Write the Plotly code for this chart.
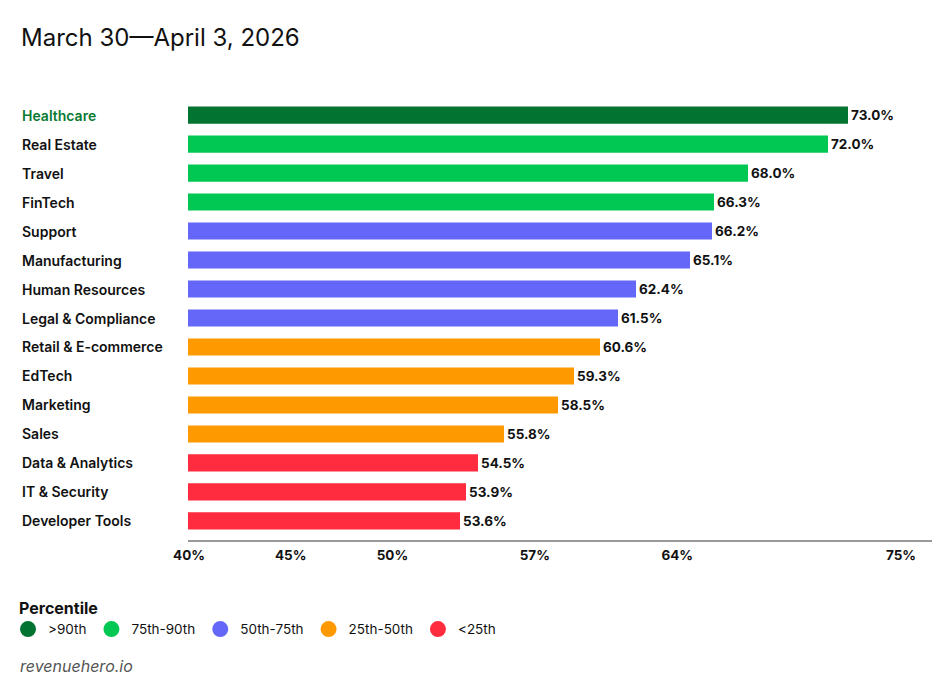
import plotly.graph_objects as go

categories = ["Healthcare", "Real Estate", "Travel", "FinTech", "Support", "Manufacturing",
              "Human Resources", "Legal & Compliance", "Retail & E-commerce", "EdTech",
              "Marketing", "Sales", "Data & Analytics", "IT & Security", "Developer Tools"]
values = [73.0, 72.0, 68.0, 66.3, 66.2, 65.1, 62.4, 61.5, 60.6, 59.3, 58.5, 55.8, 54.5, 53.9, 53.6]
groups = [">90th", "75th-90th", "75th-90th", "75th-90th", "50th-75th", "50th-75th", "50th-75th",
          "50th-75th", "25th-50th", "25th-50th", "25th-50th", "25th-50th", "<25th", "<25th", "<25th"]
group_names = [">90th", "75th-90th", "50th-75th", "25th-50th", "<25th"]
group_colors = ["#037332", "#00C853", "#6567F9", "#FF9900", "#FF2B3E"]
tick_vals = [40, 45, 50, 57, 64, 75]
tick_text = ["40%", "45%", "50%", "57%", "64%", "75%"]

O = 8  # page body margin offset
W, H = 952 - O, 700 - O
ML, MR, MT, MB = 188 - O, 20, 96 - O, 160
plot_w = W - ML - MR
plot_h = H - MT - MB

fig = go.Figure()
color_of = dict(zip(group_names, group_colors))
for g in group_names:
    ys = [c for c, gg in zip(categories, groups) if gg == g]
    xs = [v for v, gg in zip(values, groups) if gg == g]
    fig.add_trace(go.Bar(
        x=xs, y=ys, orientation="h", marker=dict(color=color_of[g], line=dict(width=0)),
        width=0.59, text=[f"{v:.1f}%" for v in xs], textposition="outside",
        textfont=dict(family="Inter", size=13.5, color="#111111", weight=700),
        cliponaxis=False, showlegend=False, hoverinfo="skip"))

for g in group_names:
    fig.add_trace(go.Scatter(
        x=[None], y=[None], mode="markers", name=g,
        marker=dict(color=color_of[g], size=17, symbol="circle"), showlegend=True))

# left-aligned category labels
for c in categories:
    fig.add_annotation(
        x=(12 - ML) / plot_w, xref="paper", y=c, yref="y", text=c, showarrow=False,
        xanchor="left", yanchor="middle",
        font=dict(family="Inter", size=14, weight=600,
                  color="#0A7A33" if c == "Healthcare" else "#111111"))

fig.add_annotation(
    x=(10 - ML) / plot_w, xref="paper", y=-(666 - O - (H - MB)) / plot_h, yref="paper",
    text="<i>revenuehero.io</i>", showarrow=False, xanchor="left", yanchor="middle",
    font=dict(family="Inter", size=16, color="#555555"))

fig.update_layout(
    width=W, height=H, margin=dict(l=ML, r=MR, t=MT, b=MB),
    paper_bgcolor="white", plot_bgcolor="white",
    barmode="overlay",
    font=dict(family="Inter", color="#111111"),
    title=dict(text="March 30\u2014April 3, 2026", x=(21 - O) / W, xanchor="left", xref="container",
               y=1 - (38 - O) / H, yanchor="middle", yref="container",
               font=dict(family="Inter", size=24, color="#111111")),
    xaxis=dict(range=[40, 77.2], showgrid=False, zeroline=False, showline=True,
               linecolor="#999999", linewidth=1.5, showticklabels=False, ticks="",
               fixedrange=True),
    xaxis2=dict(overlaying="x", side="bottom", range=[40 - 1 / 20.37, 40 + 744 / 20.37],
                tickvals=tick_vals, ticktext=tick_text, showgrid=False, zeroline=False,
                showline=False, ticks="", ticklabelstandoff=5,
                tickfont=dict(family="Inter", size=13.5, weight=700, color="#111111")),
    yaxis=dict(categoryorder="array", categoryarray=categories, range=[14.66, -0.66],
               showticklabels=False, showgrid=False, zeroline=False, ticks=""),
    legend=dict(orientation="h", x=0, xref="container",
                y=1 - (593 - O) / H, yref="container",
                yanchor="top", xanchor="left",
                title=dict(text="&nbsp;&nbsp;<b>Percentile</b>", side="top",
                           font=dict(family="Inter", size=16, color="#111111")),
                font=dict(family="Inter", size=13.5, color="#111111"),
                itemwidth=30, tracegroupgap=0),
)
fig.add_trace(go.Scatter(x=[None], y=[None], xaxis="x2", showlegend=False, hoverinfo="skip"))

fig.write_html("out.html")
